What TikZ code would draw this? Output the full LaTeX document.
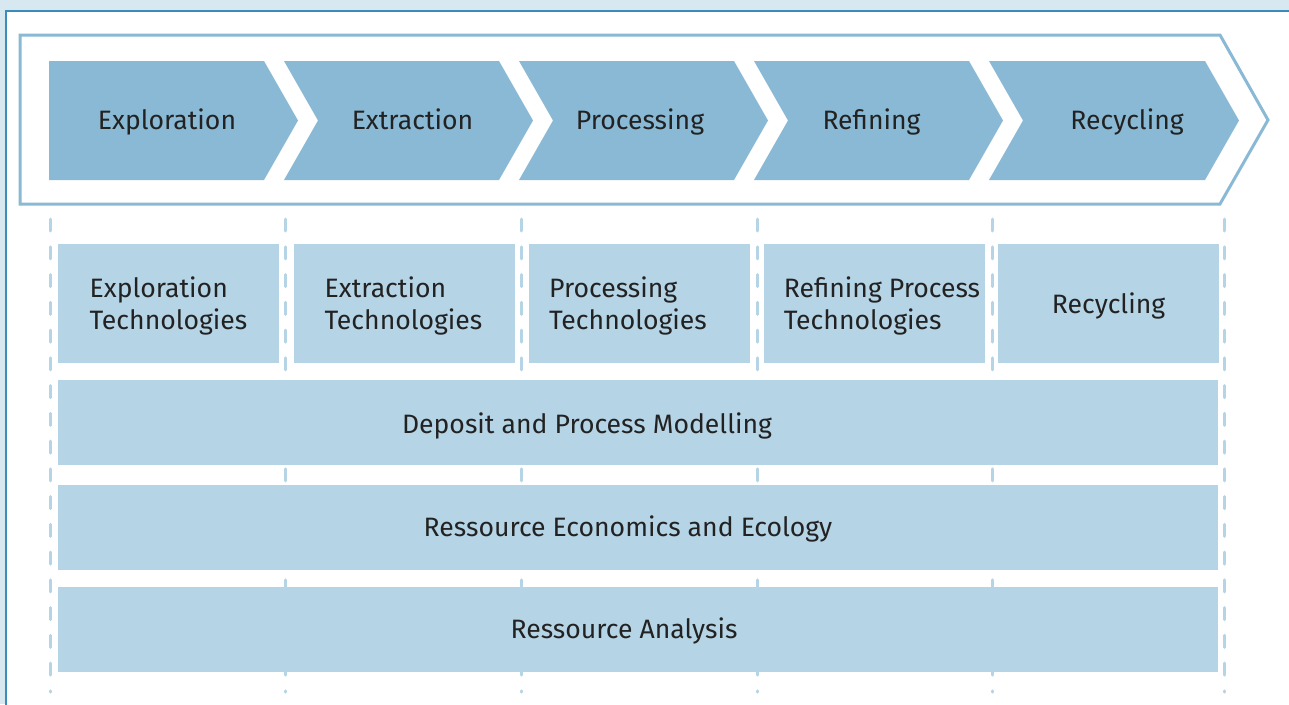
\documentclass[tikz,border=0pt]{standalone}
\usepackage{fontspec}
\setmainfont{Fira Sans}
\usepackage{xcolor}
\definecolor{pagebg}{HTML}{D8E8F1}
\definecolor{panelline}{HTML}{3A8DBA}
\definecolor{arrowblue}{HTML}{89B9D4}
\definecolor{boxblue}{HTML}{B5D4E6}
\definecolor{textdark}{HTML}{222222}

\newcommand{\fieldtext}[2]{\begin{tabular}[t]{@{}l@{}}#1\\#2\end{tabular}}

\tikzset{
  labeltext/.style={anchor=base, inner sep=0pt, text=textdark,
    font=\fontsize{26.6}{32}\selectfont},
  techbox/.style={fill=boxblue, minimum width=221pt, minimum height=119pt, inner sep=0pt},
  layerbar/.style={fill=boxblue, minimum width=1160pt, minimum height=85pt, inner sep=0pt},
  guide/.style={draw=boxblue, line width=3pt, line cap=round,
    dash pattern=on 12pt off 15.76pt}
}

\begin{document}
\begin{tikzpicture}[x=1pt,y=-1pt]

    \useasboundingbox (0,0) rectangle (1289,704);
    \clip (0,0) rectangle (1289,704);
    \fill[pagebg] (0,0) rectangle (1289,704);
    \filldraw[fill=white, draw=panelline, line width=1.5pt] (6,11) rectangle (1300,720);

    % value chain arrow
    \draw[arrowblue, line width=3pt, line join=miter]
      (20,35) -- (1220,35) -- (1268,120) -- (1220,204) -- (20,204) -- cycle;

    \fill[arrowblue] (49,61) -- (264,61) -- (298,120.5) -- (264,180) -- (49,180) -- cycle;
    \fill[arrowblue] (284,61) -- (499,61) -- (533,120.5) -- (499,180) -- (284,180) -- (318,120.5) -- cycle;
    \fill[arrowblue] (519,61) -- (734,61) -- (768,120.5) -- (734,180) -- (519,180) -- (553,120.5) -- cycle;
    \fill[arrowblue] (754,61) -- (969,61) -- (1003,120.5) -- (969,180) -- (754,180) -- (788,120.5) -- cycle;
    \fill[arrowblue] (989,61) -- (1205,61) -- (1239,120.5) -- (1205,180) -- (989,180) -- (1023,120.5) -- cycle;

    \node[labeltext] (expl) at (167,129.5) {Exploration};
    \node[labeltext] (extr) at (412.5,129.5) {Extraction};
    \node[labeltext] (proc) at (640,129.5) {Processing};
    \node[labeltext] (refi) at (871.5,129.5) {Refining};
    \node[labeltext] (recy) at (1127,129.5) {Recycling};

    % dashed guides
    \coordinate (g1a) at (50,219);   \coordinate (g1b) at (50,692);
    \coordinate (g2a) at (285,219);  \coordinate (g2b) at (285,692);
    \coordinate (g3a) at (521,219);  \coordinate (g3b) at (521,692);
    \coordinate (g4a) at (757,219);  \coordinate (g4b) at (757,692);
    \coordinate (g5a) at (992,219);  \coordinate (g5b) at (992,692);
    \coordinate (g6a) at (1224,219); \coordinate (g6b) at (1224,692);
    \draw[guide] (g1a) -- (g1b);
    \draw[guide] (g2a) -- (g2b);
    \draw[guide] (g3a) -- (g3b);
    \draw[guide] (g4a) -- (g4b);
    \draw[guide] (g5a) -- (g5b);
    \draw[guide] (g6a) -- (g6b);

    % technology fields
    \node[techbox] (explt) at (168.5,303.5) {};
    \node[techbox] (extrt) at (404,303.5) {};
    \node[techbox] (proct) at (639,303.5) {};
    \node[techbox] (refit) at (874,303.5) {};
    \node[techbox] (recyt) at (1108.5,303.5) {};
    \node[labeltext] (expltxt) at (168.5,297) {\fieldtext{Exploration}{Technologies}};
    \node[labeltext] (extrtxt) at (403.5,297) {\fieldtext{Extraction}{Technologies}};
    \node[labeltext] (proctxt) at (628,297) {\fieldtext{Processing}{Technologies}};
    \node[labeltext] (refitxt) at (882,297) {\fieldtext{Refining Process}{Technologies}};
    \node[labeltext] (recytxt) at (1108.5,313) {Recycling};

    % cross-cutting layers
    \node[layerbar] (model) at (638,422.5) {};
    \node[layerbar] (econ) at (638,527) {};
    \node[layerbar] (anal) at (638,629) {};
    \node[labeltext] (modeltxt) at (587,433) {Deposit and Process Modelling};
    \node[labeltext] (econtxt) at (628,536) {Ressource Economics and Ecology};
    \node[labeltext] (analtxt) at (624,638) {Ressource Analysis};

\end{tikzpicture}
\end{document}
